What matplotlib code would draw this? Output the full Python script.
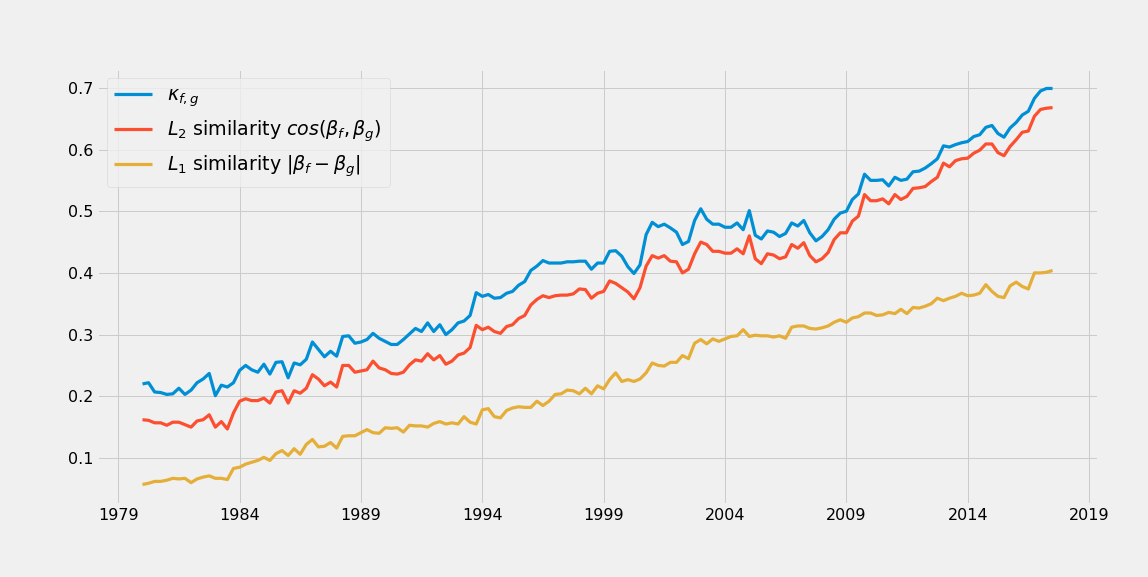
import matplotlib
matplotlib.use("Agg")
import matplotlib.pyplot as plt
import matplotlib.dates as mdates
import pandas as pd
import datetime as dt

# quarterly observations, 1980Q1 .. 2017Q3
dates = pd.date_range("1980-01-01", periods=151, freq="QS")

kappa = [0.220, 0.222, 0.207, 0.206, 0.203, 0.204, 0.213, 0.203, 0.210, 0.222, 0.228, 0.237, 0.201, 0.218, 0.215, 0.222, 0.242,
         0.250, 0.243, 0.239, 0.252, 0.236, 0.255, 0.256, 0.230, 0.254, 0.251, 0.260, 0.288, 0.276, 0.264, 0.273, 0.265, 0.297, 0.298, 0.286, 0.288,
         0.292, 0.302, 0.294, 0.289, 0.284, 0.284, 0.292, 0.301, 0.310, 0.305, 0.319, 0.305, 0.316, 0.300, 0.308, 0.319, 0.322, 0.331, 0.368,
         0.362, 0.365, 0.359, 0.360, 0.367, 0.370, 0.380, 0.386, 0.404, 0.411, 0.420, 0.416, 0.416, 0.416, 0.418, 0.418, 0.419, 0.419, 0.406, 0.416, 0.416, 0.435,
         0.436, 0.427, 0.410, 0.399, 0.413, 0.462, 0.482, 0.475, 0.479, 0.473, 0.466, 0.446, 0.451, 0.485, 0.504, 0.487, 0.479, 0.479, 0.474, 0.474, 0.481, 0.470, 0.501,
         0.461, 0.455, 0.468, 0.466, 0.459, 0.464, 0.481, 0.476, 0.485, 0.465, 0.452, 0.459, 0.470, 0.487, 0.497, 0.500, 0.519, 0.528, 0.560, 0.550,
         0.550, 0.551, 0.541, 0.555, 0.550, 0.552, 0.564, 0.565, 0.570, 0.577, 0.585, 0.606, 0.604, 0.608, 0.611, 0.613, 0.621, 0.624, 0.636, 0.639,
         0.626, 0.620, 0.635, 0.644, 0.656, 0.662, 0.683, 0.695, 0.699, 0.699]

l2_sim = [0.162, 0.161, 0.157, 0.157, 0.153, 0.158, 0.158, 0.154, 0.150, 0.160, 0.162, 0.170, 0.150, 0.159, 0.147, 0.173, 0.192,
          0.196, 0.193, 0.193, 0.197, 0.189, 0.207, 0.209, 0.189, 0.209, 0.205, 0.213, 0.235, 0.228, 0.217, 0.223, 0.215, 0.250, 0.250, 0.239, 0.241,
          0.243, 0.257, 0.246, 0.243, 0.237, 0.236, 0.239, 0.251, 0.259, 0.257, 0.269, 0.259, 0.266, 0.252, 0.257, 0.267, 0.270, 0.279, 0.315,
          0.308, 0.312, 0.305, 0.302, 0.313, 0.316, 0.326, 0.331, 0.348, 0.357, 0.363, 0.360, 0.363, 0.364, 0.364, 0.366, 0.374, 0.373, 0.359, 0.367, 0.370, 0.387,
          0.383, 0.376, 0.369, 0.358, 0.376, 0.411, 0.428, 0.424, 0.428, 0.419, 0.418, 0.400, 0.406, 0.431, 0.450, 0.446, 0.435, 0.435, 0.432, 0.432, 0.439, 0.431, 0.460,
          0.423, 0.415, 0.431, 0.429, 0.423, 0.426, 0.446, 0.440, 0.449, 0.428, 0.418, 0.423, 0.433, 0.454, 0.465, 0.465, 0.484, 0.492, 0.527, 0.517,
          0.517, 0.520, 0.512, 0.527, 0.519, 0.524, 0.537, 0.538, 0.540, 0.548, 0.555, 0.578, 0.572, 0.582, 0.585, 0.586, 0.594, 0.599, 0.609, 0.609,
          0.595, 0.590, 0.605, 0.616, 0.628, 0.630, 0.654, 0.665, 0.667, 0.668]

l1_sim = [0.057, 0.059, 0.062, 0.062, 0.064, 0.067, 0.066, 0.067, 0.060, 0.066, 0.069, 0.071, 0.067, 0.067, 0.065, 0.083, 0.085,
          0.090, 0.093, 0.096, 0.101, 0.096, 0.107, 0.112, 0.104, 0.115, 0.106, 0.122, 0.130, 0.118, 0.119, 0.125, 0.116, 0.135, 0.136, 0.136, 0.141,
          0.146, 0.141, 0.140, 0.149, 0.148, 0.149, 0.142, 0.153, 0.152, 0.152, 0.150, 0.156, 0.159, 0.155, 0.157, 0.155, 0.167, 0.158, 0.155,
          0.178, 0.180, 0.167, 0.165, 0.177, 0.181, 0.183, 0.182, 0.182, 0.192, 0.185, 0.192, 0.203, 0.204, 0.210, 0.209, 0.204, 0.213, 0.204, 0.217, 0.212, 0.227,
          0.238, 0.224, 0.227, 0.224, 0.228, 0.238, 0.254, 0.250, 0.249, 0.255, 0.255, 0.266, 0.261, 0.286, 0.292, 0.285, 0.293, 0.289, 0.293, 0.297, 0.298, 0.308, 0.297,
          0.299, 0.298, 0.298, 0.296, 0.298, 0.294, 0.312, 0.314, 0.314, 0.310, 0.309, 0.311, 0.314, 0.320, 0.324, 0.320, 0.327, 0.329, 0.335, 0.335,
          0.331, 0.332, 0.336, 0.334, 0.341, 0.334, 0.344, 0.343, 0.346, 0.350, 0.359, 0.355, 0.359, 0.362, 0.367, 0.363, 0.364, 0.367, 0.381, 0.370,
          0.362, 0.360, 0.379, 0.385, 0.378, 0.374, 0.400, 0.400, 0.401, 0.404]

labels = [r"$\kappa_{f,g}$",
          r"$L_2$ similarity $cos(\beta_f,\beta_g)$",
          r"$L_1$ similarity $|\beta_f-\beta_g|$"]
tick_years = list(range(1979, 2020, 5))

plt.style.use("fivethirtyeight")

fig = plt.figure(figsize=(1148 / 72, 577 / 72), dpi=72)
ax = fig.add_axes([0.0845, 0.126, 0.872, 0.755])

ax.plot(dates, kappa, label=labels[0], linewidth=3.2)
ax.plot(dates, l2_sim, label=labels[1], linewidth=3.2)
ax.plot(dates, l1_sim, label=labels[2], linewidth=3.2)

ax.set_xticks([dt.datetime(y, 1, 1) for y in tick_years])
ax.xaxis.set_major_formatter(mdates.DateFormatter("%Y"))
ax.set_yticks([0.1, 0.2, 0.3, 0.4, 0.5, 0.6, 0.7])
ax.tick_params(labelsize=16)
ax.legend(loc="upper left", fontsize=19)

fig.savefig("out.png", dpi=72)
